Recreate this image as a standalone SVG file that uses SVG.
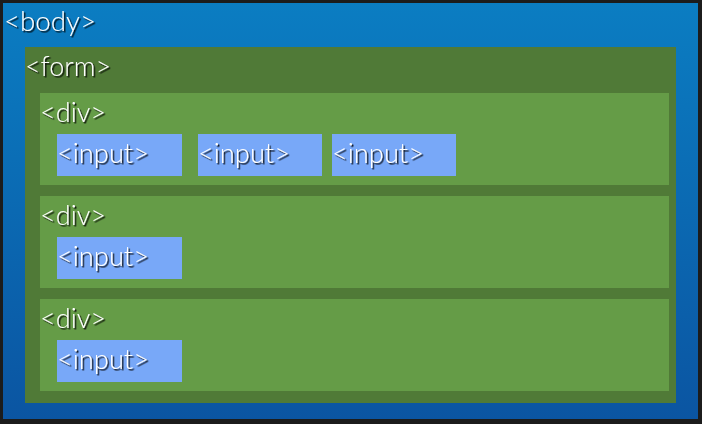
<svg xmlns="http://www.w3.org/2000/svg" width="702" height="424" viewBox="0 0 702 424">
<defs>
<linearGradient id="bg" x1="0" y1="0" x2="0" y2="1">
<stop offset="0" stop-color="#0b7dc2"/>
<stop offset="1" stop-color="#0b55a2"/>
</linearGradient>
<filter id="sh" x="-10%" y="-20%" width="130%" height="150%">
<feDropShadow dx="1.5" dy="1.5" stdDeviation="0.5" flood-color="#000" flood-opacity="0.9"/>
</filter>
</defs>
<style>
.t{font-family:"Lato","Open Sans",sans-serif;fill:#fff;filter:url(#sh);font-weight:300;font-size:27px}
.form{fill:#507a37}
.div{fill:#659c47}
.inp{fill:#78a8f8}
</style>
<rect width="702" height="424" fill="#1c1c1c"/>
<g id="body">
<rect x="3" y="3" width="695" height="416" fill="url(#bg)"/>
<text class="t" x="4" y="31" font-size="28" textLength="92" lengthAdjust="spacingAndGlyphs">&lt;body&gt;</text>
</g>
<g id="form">
<rect class="form" x="25" y="47" width="651" height="356"/>
<text class="t" x="25" y="76" textLength="86" lengthAdjust="spacingAndGlyphs">&lt;form&gt;</text>
</g>
<g id="div1">
<rect class="div" x="40" y="93" width="629" height="92"/>
<text class="t" x="40" y="122" textLength="66" lengthAdjust="spacingAndGlyphs">&lt;div&gt;</text>
</g>
<g id="input1">
<rect class="inp" x="57" y="134" width="125" height="42"/>
<text class="t" x="57" y="163" textLength="92" lengthAdjust="spacingAndGlyphs">&lt;input&gt;</text>
</g>
<g id="input2">
<rect class="inp" x="198" y="134" width="124" height="42"/>
<text class="t" x="198" y="163" textLength="92" lengthAdjust="spacingAndGlyphs">&lt;input&gt;</text>
</g>
<g id="input3">
<rect class="inp" x="332" y="134" width="124" height="42"/>
<text class="t" x="332" y="163" textLength="92" lengthAdjust="spacingAndGlyphs">&lt;input&gt;</text>
</g>
<g id="div2">
<rect class="div" x="40" y="196" width="629" height="92"/>
<text class="t" x="40" y="225" textLength="66" lengthAdjust="spacingAndGlyphs">&lt;div&gt;</text>
</g>
<g id="input4">
<rect class="inp" x="57" y="237" width="125" height="42"/>
<text class="t" x="57" y="266" textLength="92" lengthAdjust="spacingAndGlyphs">&lt;input&gt;</text>
</g>
<g id="div3">
<rect class="div" x="40" y="299" width="629" height="92"/>
<text class="t" x="40" y="328" textLength="66" lengthAdjust="spacingAndGlyphs">&lt;div&gt;</text>
</g>
<g id="input5">
<rect class="inp" x="57" y="340" width="125" height="42"/>
<text class="t" x="57" y="369" textLength="92" lengthAdjust="spacingAndGlyphs">&lt;input&gt;</text>
</g>
<g id="connectors"/>
</svg>
